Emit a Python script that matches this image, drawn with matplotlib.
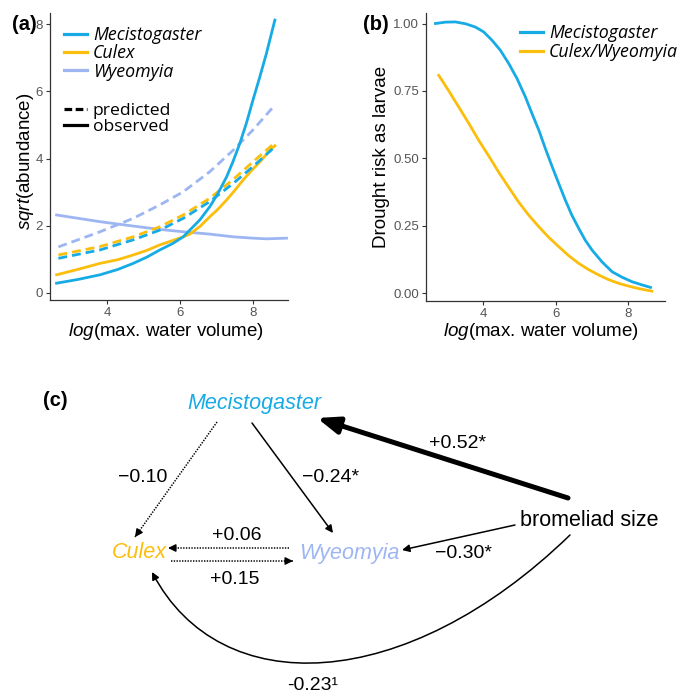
import numpy as np
import matplotlib
matplotlib.use('Agg')
import matplotlib.pyplot as plt
from matplotlib.lines import Line2D
from matplotlib.patches import FancyArrowPatch
from matplotlib.path import Path
from matplotlib.font_manager import FontProperties

plt.rcParams['font.family'] = ['Liberation Sans', 'DejaVu Sans']
plt.rcParams['mathtext.fontset'] = 'custom'
plt.rcParams['mathtext.rm'] = 'Liberation Sans'
plt.rcParams['mathtext.it'] = 'Liberation Sans:italic'

# ---------------- data: panel (a) ----------------
species = ['Mecistogaster', 'Culex', 'Wyeomyia']
x_mec_obs = [2.62, 3.20, 3.81, 4.30, 4.72, 5.10, 5.45, 5.80, 6.09, 6.27, 6.55, 6.82,
             7.05, 7.28, 7.45, 7.64, 7.82, 8.00, 8.18, 8.37, 8.60]
y_mec_obs = [0.29, 0.40, 0.54, 0.70, 0.88, 1.07, 1.28, 1.47, 1.67, 1.87, 2.18, 2.57,
             2.98, 3.46, 3.90, 4.45, 5.05, 5.74, 6.40, 7.13, 8.12]
x_cul_obs = [2.62, 3.20, 3.81, 4.30, 4.72, 5.10, 5.45, 5.80, 6.09, 6.27, 6.55, 6.82,
             7.05, 7.28, 7.50, 7.73, 7.95, 8.19, 8.47, 8.60]
y_cul_obs = [0.54, 0.70, 0.88, 0.99, 1.13, 1.27, 1.43, 1.56, 1.67, 1.75, 1.98, 2.27,
             2.50, 2.77, 3.05, 3.36, 3.63, 3.90, 4.25, 4.38]
x_wye_obs = [2.62, 3.81, 4.72, 5.45, 6.09, 6.82, 7.46, 8.00, 8.37, 8.92]
y_wye_obs = [2.32, 2.12, 1.99, 1.89, 1.82, 1.75, 1.67, 1.63, 1.61, 1.63]
x_pred = [2.67, 3.81, 4.72, 5.45, 6.09, 6.82, 7.46, 8.00, 8.60]
y_mec_pred = [1.03, 1.28, 1.58, 1.87, 2.22, 2.72, 3.26, 3.76, 4.35]
y_cul_pred = [1.13, 1.38, 1.67, 1.97, 2.32, 2.82, 3.38, 3.90, 4.47]
y_wye_pred = [1.37, 1.82, 2.22, 2.62, 3.01, 3.61, 4.25, 4.85, 5.59]

# ---------------- data: panel (b) ----------------
groups_b = ['Mecistogaster', 'Culex/Wyeomyia']
x_b_mec = [2.68, 2.95, 3.23, 3.51, 3.78, 4.01, 4.24, 4.47, 4.70, 4.93, 5.16, 5.34, 5.53,
           5.71, 5.90, 6.08, 6.26, 6.44, 6.63, 6.81, 7.00, 7.27, 7.55, 7.82, 8.10, 8.38, 8.61]
y_b_mec = [1.000, 1.005, 1.006, 0.999, 0.987, 0.969, 0.938, 0.901, 0.852, 0.796, 0.728,
           0.667, 0.605, 0.537, 0.469, 0.407, 0.346, 0.290, 0.241, 0.197, 0.160, 0.117,
           0.080, 0.060, 0.043, 0.031, 0.022]
x_b_cw = [2.77, 3.05, 3.32, 3.60, 3.87, 4.15, 4.42, 4.70, 4.97, 5.25, 5.53, 5.80, 6.08,
          6.35, 6.63, 6.90, 7.18, 7.45, 7.73, 8.00, 8.30, 8.65]
y_b_cw = [0.808, 0.750, 0.691, 0.630, 0.568, 0.509, 0.450, 0.393, 0.339, 0.290, 0.247,
          0.208, 0.173, 0.140, 0.111, 0.088, 0.068, 0.051, 0.037, 0.027, 0.017, 0.008]

# ---------------- data: panel (c) ----------------
node_names = ['Mecistogaster', 'Culex', 'Wyeomyia', 'bromeliad size']
coef_labels = ['+0.52*', '\u22120.24*', '\u22120.10', '+0.06', '+0.15', '\u22120.30*', '-0.23\u00b9']

C_MEC = '#17ABE6'
C_CUL = '#FBBE0C'
C_WYE = '#9DB6F2'
colors = [C_MEC, C_CUL, C_WYE]

W, H = 686, 698
fig = plt.figure(figsize=(W / 100, H / 100), dpi=100)


def px_axes(l, t, r, b):
    return fig.add_axes([l / W, 1 - b / H, (r - l) / W, (b - t) / H])


def style(ax):
    for s in ['top', 'right']:
        ax.spines[s].set_visible(False)
    for s in ['left', 'bottom']:
        ax.spines[s].set_color('#333333')
        ax.spines[s].set_linewidth(0.9)
    ax.tick_params(direction='out', length=3, width=0.8, color='#333333',
                   labelcolor='#555555', labelsize=9.5, pad=2)


LW = 2.0
DASH = (0, (3.2, 1.8))

# ---------------- panel (a) ----------------
axA = px_axes(50, 13, 288, 300)
style(axA)
axA.plot(x_wye_obs, y_wye_obs, color=C_WYE, lw=LW)
axA.plot(x_pred, y_wye_pred, color=C_WYE, lw=LW, ls=DASH)
axA.plot(x_cul_obs, y_cul_obs, color=C_CUL, lw=LW)
axA.plot(x_pred, y_cul_pred, color=C_CUL, lw=LW, ls=DASH)
axA.plot(x_pred, y_mec_pred, color=C_MEC, lw=LW, ls=DASH)
axA.plot(x_mec_obs, y_mec_obs, color=C_MEC, lw=LW)
axA.set_xlim(2.44, 8.96)
axA.set_ylim(-0.21, 8.33)
axA.set_xticks([4, 6, 8])
axA.set_yticks([0, 2, 4, 6, 8])

leg_it = FontProperties(family='Open Sans', style='italic', size=12.8)
leg_rm = FontProperties(family='Open Sans', size=12.6)
legA1 = axA.legend(handles=[Line2D([], [], color=c, lw=2.3) for c in colors],
                   labels=species, loc='upper left',
                   bbox_to_anchor=(64 / W, 1 - 26 / H), bbox_transform=fig.transFigure,
                   frameon=False, prop=leg_it, handlelength=1.3, handletextpad=0.33,
                   labelspacing=0.02, borderpad=0, borderaxespad=0)
axA.add_artist(legA1)
axA.legend(handles=[Line2D([], [], color='k', lw=2.3, ls=(0, (2.4, 1.1))),
                    Line2D([], [], color='k', lw=2.3)],
           labels=['predicted', 'observed'], loc='upper left',
           bbox_to_anchor=(64 / W, 1 - 103 / H), bbox_transform=fig.transFigure,
           frameon=False, prop=leg_rm, handlelength=1.3, handletextpad=0.33,
           labelspacing=-0.05, borderpad=0, borderaxespad=0)

fig.text(25 / W, 1 - 161 / H, r'$\mathit{sqrt}$(abundance)', rotation=90,
         ha='center', va='center', fontsize=13.5)
fig.text(166 / W, 1 - 332 / H, r'$\mathit{log}$(max. water volume)',
         ha='center', va='center', fontsize=13.5)
fig.text(24 / W, 1 - 25 / H, '(a)', ha='center', va='center', fontsize=14.5,
         fontweight='bold')

# ---------------- panel (b) ----------------
axB = px_axes(426, 13, 665, 301)
style(axB)
axB.plot(x_b_cw, y_b_cw, color=C_CUL, lw=LW)
axB.plot(x_b_mec, y_b_mec, color=C_MEC, lw=LW)
axB.set_xlim(2.42, 9.01)
axB.set_ylim(-0.0285, 1.039)
axB.set_xticks([4, 6, 8])
axB.set_yticks([0, 0.25, 0.5, 0.75, 1.0])
axB.set_yticklabels(['0.00', '0.25', '0.50', '0.75', '1.00'])
axB.legend(handles=[Line2D([], [], color=C_MEC, lw=2.3), Line2D([], [], color=C_CUL, lw=2.3)],
           labels=groups_b, loc='upper left',
           bbox_to_anchor=(520 / W, 1 - 24 / H), bbox_transform=fig.transFigure,
           frameon=False, prop=leg_it, handlelength=1.3, handletextpad=0.33,
           labelspacing=0.07, borderpad=0, borderaxespad=0)

fig.text(381 / W, 1 - 157 / H, 'Drought risk as larvae', rotation=90,
         ha='center', va='center', fontsize=13.5)
fig.text(541 / W, 1 - 332 / H, r'$\mathit{log}$(max. water volume)',
         ha='center', va='center', fontsize=13.5)
fig.text(376 / W, 1 - 25 / H, '(b)', ha='center', va='center', fontsize=14.5,
         fontweight='bold')

# ---------------- panel (c): path diagram ----------------
axC = fig.add_axes([0, 0, 1, 1])
axC.set_xlim(0, W)
axC.set_ylim(H, 0)
axC.axis('off')
axC.patch.set_visible(False)

node_pos = {'Mecistogaster': (254, 403), 'Culex': (139, 553),
            'Wyeomyia': (349, 553), 'bromeliad size': (589, 520)}
node_col = {'Mecistogaster': C_MEC, 'Culex': C_CUL, 'Wyeomyia': C_WYE,
            'bromeliad size': 'black'}
for n in node_names:
    x, y = node_pos[n]
    axC.text(x, y, n, ha='center', va='center', fontsize=15.5, color=node_col[n],
             style='normal' if n == 'bromeliad size' else 'italic')

axC.text(55, 401, '(c)', ha='center', va='center', fontsize=14.5, fontweight='bold')

label_pos = [(458, 443), (331, 477), (143, 477), (237, 536), (235, 580), (464, 554), (313, 685)]
for lab, (x, y) in zip(coef_labels, label_pos):
    axC.text(x, y, lab, ha='center', va='center', fontsize=14)


def arrow(p0, p1, lw=1.1, dotted=False, hl=0.4, hw=0.2, ms=11):
    style_str = f'-|>,head_length={hl},head_width={hw}'
    if dotted:
        axC.plot([p0[0], p1[0]], [p0[1], p1[1]], color='k', lw=lw, ls=(0, (0.9, 0.9)))
        d = np.subtract(p1, p0).astype(float)
        d /= np.hypot(*d)
        q = np.asarray(p1, float) - d * 6
        axC.annotate('', xy=p1, xytext=tuple(q),
                     arrowprops=dict(arrowstyle=style_str, lw=lw, color='k',
                                     shrinkA=0, shrinkB=0, mutation_scale=ms))
    else:
        axC.annotate('', xy=p1, xytext=p0,
                     arrowprops=dict(arrowstyle=style_str, lw=lw, color='k',
                                     shrinkA=0, shrinkB=0, mutation_scale=ms))


# bromeliad size -> Mecistogaster (thick)
arrow((568, 498), (317, 418), lw=3.6, hl=0.65, hw=0.25, ms=20)
# Mecistogaster -> Wyeomyia
arrow((252, 423), (333, 533))
# Mecistogaster -> Culex (dotted)
arrow((217, 422), (135, 537), dotted=True)
# Wyeomyia -> Culex (dotted)
arrow((289, 548), (168, 548), dotted=True)
# Culex -> Wyeomyia (dotted)
arrow((171, 561), (293, 561), dotted=True)
# bromeliad size -> Wyeomyia
arrow((515, 525), (402, 550))
# bromeliad size -> Culex (curved)
curve = Path([(570, 535), (405, 695), (220, 702), (152, 572)],
             [Path.MOVETO, Path.CURVE4, Path.CURVE4, Path.CURVE4])
axC.add_patch(FancyArrowPatch(path=curve, arrowstyle='-|>,head_length=0.4,head_width=0.2',
                              mutation_scale=11, lw=1.1, color='k',
                              transform=axC.transData))

fig.savefig('out.png', dpi=100)
